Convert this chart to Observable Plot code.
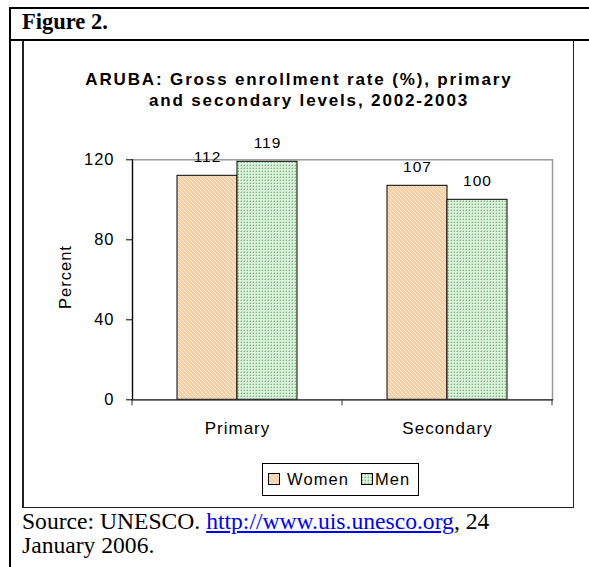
<!DOCTYPE html>
<html>
<head>
<meta charset="utf-8">
<script src="https://cdn.jsdelivr.net/npm/d3@7"></script>
<script src="https://cdn.jsdelivr.net/npm/@observablehq/plot@0.6"></script>
<style>
  html, body { margin: 0; padding: 0; background: #fff; }
  #page { position: relative; width: 589px; height: 567px; overflow: hidden; background: #fff; }
  .ln { position: absolute; background: #000; }
  .serif { font-family: "Liberation Serif", "Times New Roman", serif; color: #000; position: absolute; white-space: nowrap; }
  .sans { font-family: "Liberation Sans", Arial, sans-serif; color: #000; position: absolute; white-space: nowrap; }
  #chart { position: absolute; left: 0; top: 110px; }
  #chart svg text { letter-spacing: 1px; }
  a { color: #0000ff; text-decoration: underline; }
</style>
</head>
<body>
<div id="page">
  <div class="ln" style="left:9px;top:7px;width:580px;height:2px;"></div>
  <div class="ln" style="left:9px;top:39px;width:580px;height:2px;"></div>
  <div class="ln" style="left:9px;top:7px;width:2px;height:560px;"></div>
  <div class="ln" style="left:22px;top:41px;width:1.8px;height:467px;background:#222;"></div>
  <div class="ln" style="left:572.5px;top:41px;width:1.8px;height:467px;background:#222;"></div>
  <div class="ln" style="left:22px;top:506.8px;width:552px;height:1.6px;background:#222;"></div>

  <div class="serif" style="left:22px;top:11px;font-size:22.5px;line-height:22.5px;font-weight:bold;">Figure 2.</div>

  <div id="chart"></div>

  <div id="title1" class="sans" style="left:0;width:598px;text-align:center;top:70px;font-size:17px;line-height:20.5px;font-weight:bold;letter-spacing:1.85px;"></div>
  <div id="title2" class="sans" style="left:0;width:618px;text-align:center;top:90.5px;font-size:17px;line-height:20.5px;font-weight:bold;letter-spacing:1.85px;"></div>

  <div id="ylabel" class="sans" style="left:-35px;width:200px;top:267px;height:20px;line-height:20px;text-align:center;font-size:16.5px;letter-spacing:1px;transform:rotate(-90deg);transform-origin:100px 10px;"></div>

  <div id="legend" style="position:absolute;left:262px;top:463px;width:157px;height:33px;box-sizing:border-box;border:1px solid #000;background:#fff;"></div>

  <div class="serif" style="left:22px;top:509px;font-size:23.6px;line-height:24px;">Source: UNESCO. <a href="http://www.uis.unesco.org">http://www.uis.unesco.org</a>, 24<br>January 2006.</div>
</div>
<script>
// ---- data ----
const levels = ["Primary", "Secondary"];
const sexes = ["Women", "Men"];
const women = [112, 107];
const men = [119, 100];
const yTicks = [0, 40, 80, 120];
const titleLines = ["ARUBA: Gross enrollment rate (%), primary", "and secondary levels, 2002-2003"];
const yLabel = "Percent";

const rows = levels.flatMap((level, i) => [
  {level, sex: sexes[0], value: women[i]},
  {level, sex: sexes[1], value: men[i]}
]);
const womenRows = rows.filter(d => d.sex === "Women");
const menRows = rows.filter(d => d.sex === "Men");

document.getElementById("title1").textContent = titleLines[0];
document.getElementById("title2").textContent = titleLines[1];
document.getElementById("ylabel").textContent = yLabel;

// boundary ticks below the category axis, from the x band scale
function boundaryTicks(index, scales, values, dims) {
  const x = scales.x;
  const bw = typeof x.bandwidth === "function" ? x.bandwidth() : x.bandwidth;
  const y0 = dims.height - dims.marginBottom;
  const pos = levels.map(l => x(l)).concat([x(levels[levels.length - 1]) + bw]);
  const g = d3.create("svg:g");
  for (const p of pos) {
    g.append("line").attr("x1", p).attr("x2", p).attr("y1", y0).attr("y2", y0 + 6)
      .attr("stroke", "#333").attr("stroke-width", 1);
  }
  return g.node();
}

const chart = Plot.plot({
  width: 589,
  height: 340,
  marginLeft: 132,
  marginRight: 37,
  marginTop: 49.3,
  marginBottom: 50.7,
  style: {fontFamily: "'Liberation Sans', Arial, sans-serif", color: "#000", background: "transparent"},
  x: {type: "band", domain: levels, padding: 0, round: false},
  y: {domain: [0, 120]},
  marks: [
    Plot.frame({stroke: "#999", strokeWidth: 1.5}),
    Plot.barY(womenRows, {x: "level", y: "value", fill: "url(#patWomen)", stroke: "#000", strokeWidth: 1, insetLeft: 45, insetRight: 105}),
    Plot.barY(menRows, {x: "level", y: "value", fill: "url(#patMen)", stroke: "#000", strokeWidth: 1, insetLeft: 105, insetRight: 45}),
    Plot.frame({anchor: "left", stroke: "#000", strokeWidth: 1.2}),
    Plot.frame({anchor: "bottom", stroke: "#333", strokeWidth: 1.2}),
    boundaryTicks,
    Plot.axisY(yTicks, {tickSize: 6, tickPadding: 12, fontSize: 16.5, label: null, stroke: "#000"}),
    Plot.axisX({tickSize: 0, tickPadding: 22, fontSize: 17, label: null}),
    Plot.text(womenRows, {x: "level", y: "value", text: d => String(d.value), dx: -30, dy: -14, lineAnchor: "bottom", fontSize: 15.5, fill: "#000"}),
    Plot.text(menRows, {x: "level", y: "value", text: d => String(d.value), dx: 30, dy: -14, lineAnchor: "bottom", fontSize: 15.5, fill: "#000"})
  ]
});
document.getElementById("chart").appendChild(chart);

// fill patterns
const defs = d3.select(chart).insert("defs", ":first-child");
const pw = defs.append("pattern").attr("id", "patWomen").attr("patternUnits", "userSpaceOnUse")
  .attr("width", 4).attr("height", 4);
pw.append("rect").attr("width", 4).attr("height", 4).attr("fill", "#F6D1A8");
pw.append("rect").attr("x", 0).attr("y", 0).attr("width", 1).attr("height", 1).attr("fill", "#FCEBD7");
pw.append("rect").attr("x", 2).attr("y", 2).attr("width", 1).attr("height", 1).attr("fill", "#FCEBD7");
pw.append("rect").attr("x", 1).attr("y", 1).attr("width", 1).attr("height", 1).attr("fill", "#F9DFC0");
pw.append("rect").attr("x", 3).attr("y", 3).attr("width", 1).attr("height", 1).attr("fill", "#F9DFC0");
const pm = defs.append("pattern").attr("id", "patMen").attr("patternUnits", "userSpaceOnUse")
  .attr("width", 3).attr("height", 3);
pm.append("rect").attr("width", 3).attr("height", 3).attr("fill", "#DCF1DC");
pm.append("rect").attr("x", 1).attr("y", 1).attr("width", 1).attr("height", 1).attr("fill", "#7DB67D");
pm.append("rect").attr("x", 0).attr("y", 1).attr("width", 1).attr("height", 1).attr("fill", "#B6DAB6");
pm.append("rect").attr("x", 1).attr("y", 0).attr("width", 1).attr("height", 1).attr("fill", "#B6DAB6");

// legend
const legend = d3.select("#legend");
const legendItems = [
  {label: sexes[0], fill: "url(#patWomen)", sx: 5, tx: 24},
  {label: sexes[1], fill: "url(#patMen)", sx: 98, tx: 112}
];
for (const it of legendItems) {
  legend.append("svg").attr("width", 12).attr("height", 12)
    .style("position", "absolute").style("left", it.sx + "px").style("top", "9px")
    .append("rect").attr("x", 0.5).attr("y", 0.5).attr("width", 11).attr("height", 11)
    .attr("fill", it.fill).attr("stroke", "#000").attr("stroke-width", 1);
  legend.append("div").attr("class", "sans")
    .style("left", it.tx + "px").style("top", "5px").style("font-size", "16.5px")
    .style("line-height", "20px").style("letter-spacing", "1.1px")
    .text(it.label);
}
</script>
</body>
</html>
